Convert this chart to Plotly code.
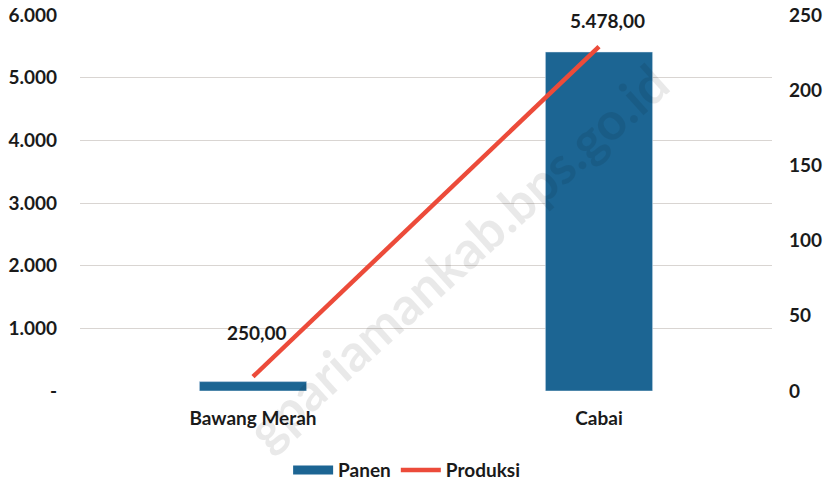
import plotly.graph_objects as go

categories = ["Bawang Merah", "Cabai"]
panen = [150, 5410]
produksi = [9.5, 229]
value_labels = ["250,00", "5.478,00"]
left_ticks = [0, 1000, 2000, 3000, 4000, 5000, 6000]
left_ticktext = ["-", "1.000", "2.000", "3.000", "4.000", "5.000", "6.000"]
right_ticks = [0, 50, 100, 150, 200, 250]

BAR_COLOR = "#1C6593"
LINE_COLOR = "#EC4B3A"
FONT = "Lato"
FS = 19

fig = go.Figure()
fig.add_trace(go.Bar(x=categories, y=panen, name="Panen", marker_color=BAR_COLOR,
                     width=0.31, showlegend=False, yaxis="y"))
fig.add_trace(go.Scatter(x=[None], y=[None], mode="lines", name="Panen",
                         line=dict(color=BAR_COLOR, width=9), yaxis="y"))
fig.add_trace(go.Scatter(x=categories, y=produksi, mode="lines", name="Produksi",
                         line=dict(color=LINE_COLOR, width=4.5), yaxis="y2"))

label_y = [935, 5919]
label_shift = [4, 8]
for c, t, yy, xs in zip(categories, value_labels, label_y, label_shift):
    fig.add_annotation(x=c, y=yy, xref="x", yref="y", text=f"<b>{t}</b>", showarrow=False,
                       xshift=xs, font=dict(family=FONT, size=FS, color="#1a1a1a"))

fig.add_annotation(x=0.545, y=0.36, xref="paper", yref="paper",
                   text="<b>gpariamankab.bps.go.id</b>",
                   showarrow=False, textangle=-42,
                   font=dict(family=FONT, size=52, color="rgba(0,0,0,0.085)"))

fig.update_layout(
    width=830, height=480,
    margin=dict(l=80, r=58, t=15, b=89, autoexpand=False),
    plot_bgcolor="white", paper_bgcolor="white",
    font=dict(family=FONT, size=FS, color="#1a1a1a", weight="bold"),
    xaxis=dict(showgrid=False, showline=False, ticks="",
               tickfont=dict(family=FONT, size=FS, weight="bold"), ticklabelstandoff=14),
    yaxis=dict(range=[0, 6000], tickvals=left_ticks, ticktext=left_ticktext,
               showgrid=True, gridcolor="#D9D5D2", gridwidth=1, zeroline=False,
               tickfont=dict(family=FONT, size=FS, weight="bold"), ticklabelstandoff=22,
               showline=False, automargin=False),
    yaxis2=dict(range=[0, 250], tickvals=right_ticks, overlaying="y", side="right",
                showgrid=False, zeroline=False, showline=False, automargin=False,
                tickfont=dict(family=FONT, size=FS, weight="bold"), ticklabelstandoff=16),
    legend=dict(orientation="h", x=0.472, xanchor="center", y=-0.16, yanchor="top",
                font=dict(family=FONT, size=FS, weight="bold"), itemwidth=40),
)

fig.write_html("out.html", config={"displayModeBar": False},
               post_script="document.body.style.margin='0';")
